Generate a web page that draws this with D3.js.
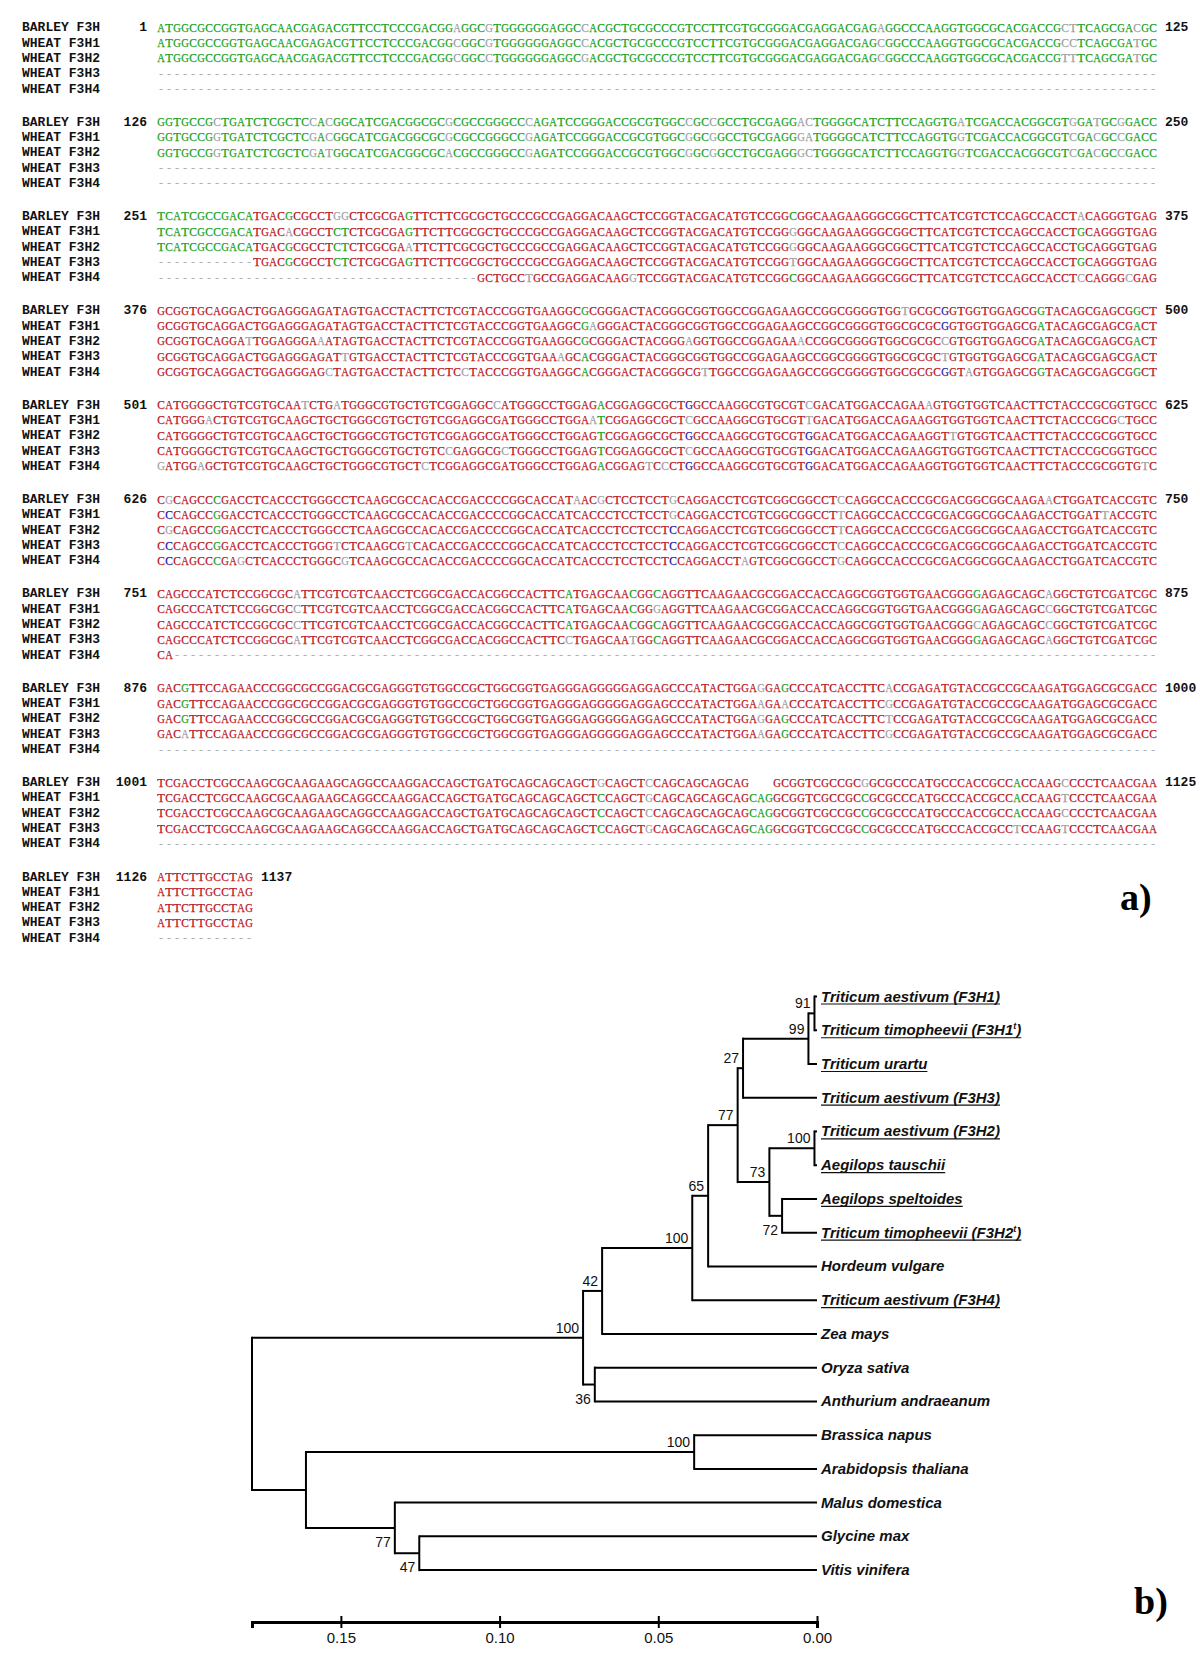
<!DOCTYPE html>
<html><head><meta charset="utf-8">
<script src="https://cdn.jsdelivr.net/npm/d3@7"></script>
<style>body{margin:0;background:#fff}</style>
</head><body>
<svg id="c" width="1200" height="1654"></svg>
<script>
// ---------------- DATA: alignment ----------------
const seqNames = ["BARLEY F3H","WHEAT F3H1","WHEAT F3H2","WHEAT F3H3","WHEAT F3H4"];
const blockStarts = [1,126,251,376,501,626,751,876,1001,1126];
const blockEnds   = [125,250,375,500,625,750,875,1000,1125,1137];
const GAP = n => "-".repeat(n);

const block1 = [
 "ATGGCGCCGGTGAGCAACGAGACGTTCCTCCCGACGGAGGCGTGGGGGGAGGCCACGCTGCGCCCGTCCTTCGTGCGGGACGAGGACGAGAGGCCCAAGGTGGCGCACGACCGCTTCAGCGACGC",
 "ATGGCGCCGGTGAGCAACGAGACGTTCCTCCCGACGGCGGCGTGGGGGGAGGCCACGCTGCGCCCGTCCTTCGTGCGGGACGAGGACGAGCGGCCCAAGGTGGCGCACGACCGCCTCAGCGATGC",
 "ATGGCGCCGGTGAGCAACGAGACGTTCCTCCCGACGGCGGCCTGGGGGGAGGCGACGCTGCGCCCGTCCTTCGTGCGGGACGAGGACGAGCGGCCCAAGGTGGCGCACGACCGTTTCAGCGATGC",
 GAP(125), GAP(125)];
const block2 = [
 "GGTGCCGCTGATCTCGCTCCACGGCATCGACGGCGCGCGCCGGGCCCAGATCCGGGACCGCGTGGCCGCCGCCTGCGAGGACTGGGGCATCTTCCAGGTGATCGACCACGGCGTGGATGCGGACC",
 "GGTGCCGGTGATCTCGCTCGACGGCATCGACGGCGCGCGCCGGGCCGAGATCCGGGACCGCGTGGCGGCGGCCTGCGAGGGATGGGGCATCTTCCAGGTGGTCGACCACGGCGTCGACGCCGACC",
 "GGTGCCGGTGATCTCGCTCGATGGCATCGACGGCGCACGCCGGGCCGAGATCCGGGACCGCGTGGCGGCGGCCTGCGAGGGCTGGGGCATCTTCCAGGTGGTCGACCACGGCGTCGACGCCGACC",
 GAP(125), GAP(125)];
const block3 = [
 "TCATCGCCGACATGACGCGCCTGGCTCGCGAGTTCTTCGCGCTGCCCGCCGAGGACAAGCTCCGGTACGACATGTCCGGCGGCAAGAAGGGCGGCTTCATCGTCTCCAGCCACCTACAGGGTGAG",
 "TCATCGCCGACATGACACGCCTCTCTCGCGAGTTCTTCGCGCTGCCCGCCGAGGACAAGCTCCGGTACGACATGTCCGGGGGCAAGAAGGGCGGCTTCATCGTCTCCAGCCACCTGCAGGGTGAG",
 "TCATCGCCGACATGACGCGCCTCTCTCGCGAATTCTTCGCGCTGCCCGCCGAGGACAAGCTCCGGTACGACATGTCCGGGGGCAAGAAGGGCGGCTTCATCGTCTCCAGCCACCTGCAGGGTGAG",
 GAP(12) + "TGACGCGCCTCTCTCGCGAGTTCTTCGCGCTGCCCGCCGAGGACAAGCTCCGGTACGACATGTCCGGTGGCAAGAAGGGCGGCTTCATCGTCTCCAGCCACCTGCAGGGTGAG",
 GAP(40) + "GCTGCCTGCCGAGGACAAGGTCCGGTACGACATGTCCGGCGGCAAGAAGGGCGGCTTCATCGTCTCCAGCCACCTCCAGGGCGAG"];
const block4 = [
 "GCGGTGCAGGACTGGAGGGAGATAGTGACCTACTTCTCGTACCCGGTGAAGGCGCGGGACTACGGGCGGTGGCCGGAGAAGCCGGCGGGGTGGTGCGCGGTGGTGGAGCGGTACAGCGAGCGGCT",
 "GCGGTGCAGGACTGGAGGGAGATAGTGACCTACTTCTCGTACCCGGTGAAGGCGAGGGACTACGGGCGGTGGCCGGAGAAGCCGGCGGGGTGGCGCGCGGTGGTGGAGCGATACAGCGAGCGACT",
 "GCGGTGCAGGATTGGAGGGAAATAGTGACCTACTTCTCGTACCCGGTGAAGGCGCGGGACTACGGGAGGTGGCCGGAGAAACCGGCGGGGTGGCGCGCCGTGGTGGAGCGATACAGCGAGCGACT",
 "GCGGTGCAGGACTGGAGGGAGATTGTGACCTACTTCTCGTACCCGGTGAAAGCACGGGACTACGGGCGGTGGCCGGAGAAGCCGGCGGGGTGGCGCGCTGTGGTGGAGCGATACAGCGAGCGACT",
 "GCGGTGCAGGACTGGAGGGAGCTAGTGACCTACTTCTCCTACCCGGTGAAGGCACGGGACTACGGGCGTTGGCCGGAGAAGCCGGCGGGGTGGCGCGCGGTAGTGGAGCGGTACAGCGAGCGGCT"];
const block5 = [
 "CATGGGGCTGTCGTGCAATCTGATGGGCGTGCTGTCGGAGGCCATGGGCCTGGAGACGGAGGCGCTGGCCAAGGCGTGCGTCGACATGGACCAGAAAGTGGTGGTCAACTTCTACCCGCGGTGCC",
 "CATGGGACTGTCGTGCAAGCTGCTGGGCGTGCTGTCGGAGGCGATGGGCCTGGAATCGGAGGCGCTCGCCAAGGCGTGCGTTGACATGGACCAGAAGGTGGTGGTCAACTTCTACCCGCGCTGCC",
 "CATGGGGCTGTCGTGCAAGCTGCTGGGCGTGCTGTCGGAGGCGATGGGCCTGGAGTCGGAGGCGCTGGCCAAGGCGTGCGTGGACATGGACCAGAAGGTTGTGGTCAACTTCTACCCGCGGTGCC",
 "CATGGGGCTGTCGTGCAAGCTGCTGGGCGTGCTGTCCGAGGCGCTGGGCCTGGAGTCGGAGGCGCTCGCCAAGGCGTGCGTGGACATGGACCAGAAGGTGGTGGTCAACTTCTACCCGCGGTGCC",
 "GATGGAGCTGTCGTGCAAGCTGCTGGGCGTGCTCTCGGAGGCGATGGGCCTGGAGACGGAGTCCCTGGCCAAGGCGTGCGTGGACATGGACCAGAAGGTGGTGGTCAACTTCTACCCGCGGTGTC"];
const block6 = [
 "CGCAGCCCGACCTCACCCTGGGCCTCAAGCGCCACACCGACCCCGGCACCATAACGCTCCTCCTGCAGGACCTCGTCGGCGGCCTCCAGGCCACCCGCGACGGCGGCAAGAACTGGATCACCGTC",
 "CCCAGCCGGACCTCACCCTGGGCCTCAAGCGCCACACCGACCCCGGCACCATCACCCTCCTCCTGCAGGACCTCGTCGGCGGCCTTCAGGCCACCCGCGACGGCGGCAAGACCTGGATTACCGTC",
 "CGCAGCCGGACCTCACCCTGGGCCTCAAGCGCCACACCGACCCCGGCACCATCACCCTCCTCCTCCAGGACCTCGTCGGCGGCCTTCAGGCCACCCGCGACGGCGGCAAGACCTGGATCACCGTC",
 "CCCAGCCGGACCTCACCCTGGGTCTCAAGCGTCACACCGACCCCGGCACCATCACCCTCCTCCTCCAGGACCTCGTCGGCGGCCTCCAGGCCACCCGCGACGGCGGCAAGACCTGGATCACCGTC",
 "CCCAGCCCGAGCTCACCCTGGGCGTCAAGCGCCACACCGACCCCGGCACCATCACCCTCCTCCTCCAGGACCTAGTCGGCGGCCTGCAGGCCACCCGCGACGGCGGCAAGACCTGGATCACCGTC"];
const block7 = [
 "CAGCCCATCTCCGGCGCATTCGTCGTCAACCTCGGCGACCACGGCCACTTCATGAGCAACGGCAGGTTCAAGAACGCGGACCACCAGGCGGTGGTGAACGGGGAGAGCAGCAGGCTGTCGATCGC",
 "CAGCCCATCTCCGGCGCCTTCGTCGTCAACCTCGGCGACCACGGCCACTTCATGAGCAACGGGAGGTTCAAGAACGCGGACCACCAGGCGGTGGTGAACGGGGAGAGCAGCCGGCTGTCGATCGC",
 "CAGCCCATCTCCGGCGCCTTCGTCGTCAACCTCGGCGACCACGGCCACTTCATGAGCAACGGCAGGTTCAAGAACGCGGACCACCAGGCGGTGGTGAACGGGCAGAGCAGCCGGCTGTCGATCGC",
 "CAGCCCATCTCCGGCGCATTCGTCGTCAACCTCGGCGACCACGGCCACTTCCTGAGCAATGGCAGGTTCAAGAACGCGGACCACCAGGCGGTGGTGAACGGGGAGAGCAGCAGGCTGTCGATCGC",
 "CA" + GAP(123)];
const block8 = [
 "GACGTTCCAGAACCCGGCGCCGGACGCGAGGGTGTGGCCGCTGGCGGTGAGGGAGGGGGAGGAGCCCATACTGGAGGAGCCCATCACCTTCACCGAGATGTACCGCCGCAAGATGGAGCGCGACC",
 "GACGTTCCAGAACCCGGCGCCGGACGCGAGGGTGTGGCCGCTGGCGGTGAGGGAGGGGGAGGAGCCCATACTGGAAGAACCCATCACCTTCGCCGAGATGTACCGCCGCAAGATGGAGCGCGACC",
 "GACGTTCCAGAACCCGGCGCCGGACGCGAGGGTGTGGCCGCTGGCGGTGAGGGAGGGGGAGGAGCCCATACTGGAGGAGCCCATCACCTTCTCCGAGATGTACCGCCGCAAGATGGAGCGCGACC",
 "GACATTCCAGAACCCGGCGCCGGACGCGAGGGTGTGGCCGCTGGCGGTGAGGGAGGGGGAGGAGCCCATACTGGAAGAGCCCATCACCTTCGCCGAGATGTACCGCCGCAAGATGGAGCGCGACC",
 GAP(125)];
const block9 = [
 "TCGACCTCGCCAAGCGCAAGAAGCAGGCCAAGGACCAGCTGATGCAGCAGCAGCTGCAGCTCCAGCAGCAGCAG   GCGGTCGCCGCGGCGCCCATGCCCACCGCCACCAAGCCCCTCAACGAA",
 "TCGACCTCGCCAAGCGCAAGAAGCAGGCCAAGGACCAGCTGATGCAGCAGCAGCTCCAGCTGCAGCAGCAGCAGCAGGCGGTCGCCGCCGCGCCCATGCCCACCGCCACCAAGTCCCTCAACGAA",
 "TCGACCTCGCCAAGCGCAAGAAGCAGGCCAAGGACCAGCTGATGCAGCAGCAGCTCCAGCTCCAGCAGCAGCAGCAGGCGGTCGCCGCCGCGCCCATGCCCACCGCCACCAAGCCCCTCAACGAA",
 "TCGACCTCGCCAAGCGCAAGAAGCAGGCCAAGGACCAGCTGATGCAGCAGCAGCTCCAGCTGCAGCAGCAGCAGCAGGCGGTCGCCGCCGCGCCCATGCCCACCGCCTCCAAGTCCCTCAACGAA",
 GAP(125)];
const block10 = ["ATTCTTGCCTAG","ATTCTTGCCTAG","ATTCTTGCCTAG","ATTCTTGCCTAG", GAP(12)];
const blocks = [block1,block2,block3,block4,block5,block6,block7,block8,block9,block10];

// columns whose highlight deviates from the general scheme (block, column, letter -> class)
const colorOverrides = [
  {b:3, c:80, map:{C:"G"}},
  {b:3, c:116, map:{G:"G"}},
  {b:5, c:67, map:{G:"B", C:"X"}},
  {b:6, c:2, map:{C:"B", G:"X"}},
  {b:6, c:65, map:{C:"B", G:"X"}}
];

// ---------------- DATA: tree ----------------
const taxa = ["Triticum aestivum (F3H1)","Triticum timopheevii (F3H1t)","Triticum urartu","Triticum aestivum (F3H3)",
  "Triticum aestivum (F3H2)","Aegilops tauschii","Aegilops speltoides","Triticum timopheevii (F3H2t)",
  "Hordeum vulgare","Triticum aestivum (F3H4)","Zea mays","Oryza sativa","Anthurium andraeanum",
  "Brassica napus","Arabidopsis thaliana","Malus domestica","Glycine max","Vitis vinifera"];
const underlined = taxa.slice(0,8).concat(["Triticum aestivum (F3H4)"]);
const L = i => ({name: taxa[i], h: 0});
const tree = {id:"root", h:0.178, children:[
  {id:"m100", h:0.0737, bs:100, children:[
    {id:"n42", h:0.0677, bs:42, children:[
      {id:"n100a", h:0.0393, bs:100, children:[
        {id:"n65", h:0.0343, bs:65, children:[
          {id:"n77", h:0.0250, bs:77, children:[
            {id:"n27", h:0.0233, bs:27, children:[
              {id:"n99", h:0.0027, bs:99, children:[
                {id:"n91", h:0.0008, bs:91, children:[L(0), L(1)]}, L(2)]},
              L(3)]},
            {id:"n73", h:0.0150, bs:73, children:[
              {id:"n100b", h:0.0008, bs:100, children:[L(4), L(5)]},
              {id:"n72", h:0.0110, bs:72, children:[L(6), L(7)]}]}]},
          L(8)]},
        L(9)]},
      L(10)]},
    {id:"n36", h:0.0700, bs:36, children:[L(11), L(12)]}]},
  {id:"dicot", h:0.161, children:[
    {id:"n100c", h:0.0387, bs:100, children:[L(13), L(14)]},
    {id:"n77d", h:0.1330, bs:77, children:[
      L(15),
      {id:"n47", h:0.1253, bs:47, children:[L(16), L(17)]}]}]}
]};
const labelBelow = ["n72","n36","n77d","n47"];
const axisTicks = [0.15, 0.10, 0.05, 0.00];

// ---------------- DRAW: alignment ----------------
const svg = d3.select("#c");
const COL = {R:"#bb1219", G:"#17a017", B:"#1818a8", X:"#a0a0a0", D:"#b0b0b0"};
const colX = d3.scaleBand().domain(d3.range(125)).range([157,1157]);
const blockY = d3.scaleLinear().domain([0,9]).range([26.7, 876]);
const rowY = d3.scaleLinear().domain([0,4]).range([0, 61.3]);

function classify(chars){
  const letters = chars.filter(c => c!=="-" && c!==" ");
  const n = letters.length;
  const sorted = [...d3.rollup(letters, v=>v.length, d=>d).entries()].sort((a,b)=>b[1]-a[1]);
  const cm = {};
  if (sorted.length===1) cm[sorted[0][0]] = n>=4 ? "R" : "G";
  else if (n>=4) {
    const m = sorted[0][1];
    if (n===4 && m===3) cm[sorted[0][0]] = "G";
    if (n===5) {
      if (m===4) cm[sorted[0][0]] = "R";
      else if (m===3 && sorted[1][1]===2) { cm[sorted[0][0]]="G"; cm[sorted[1][0]]="G"; }
      else if (m===3) cm[sorted[0][0]] = "B";
    }
  }
  return cm;
}

const gAl = svg.append("g");
blocks.forEach((blk, b) => {
  const y0 = blockY(b);
  const len = blk[0].length;
  const cls = d3.range(len).map(c => {
    const cm = classify(blk.map(s => s[c]));
    const ov = colorOverrides.find(o => o.b===b+1 && o.c===c+1);
    return ov ? Object.assign({}, cm, ov.map) : cm;
  });
  blk.forEach((s, r) => {
    const y = y0 + rowY(r) + 4.5;
    gAl.append("text").attr("x", 22).attr("y", y)
      .attr("font-family","Liberation Mono, monospace").attr("font-weight","bold")
      .attr("font-size", 13).attr("fill","#111").attr("xml:space","preserve")
      .text(seqNames[r]);
    if (r===0) {
      gAl.append("text").attr("x", 147).attr("y", y).attr("text-anchor","end")
        .attr("font-family","Liberation Mono, monospace").attr("font-weight","bold")
        .attr("font-size", 13).attr("fill","#111").text(blockStarts[b]);
      gAl.append("text").attr("x", colX(len-1) + colX.bandwidth() + 8).attr("y", y)
        .attr("font-family","Liberation Mono, monospace").attr("font-weight","bold")
        .attr("font-size", 13).attr("fill","#111").text(blockEnds[b]);
    }
    const chars = s.split("").map((ch, c) => ({ch, c}))
      .filter(d => d.ch !== " ");
    gAl.selectAll(null).data(chars).join("text")
      .attr("x", d => colX(d.c) + colX.bandwidth()/2)
      .attr("y", y + 0.5)
      .attr("text-anchor","middle")
      .attr("font-family","Liberation Serif, serif")
      .attr("font-size", 12.5)
      .attr("textLength", d => d.ch==="-" ? null : 7.6)
      .attr("lengthAdjust","spacingAndGlyphs")
      .attr("fill", d => d.ch==="-" ? COL.D : COL[cls[d.c][d.ch] || "X"])
      .attr("stroke", d => d.ch==="-" ? null : COL[cls[d.c][d.ch] || "X"])
      .attr("stroke-width", 0.25)
      .text(d => d.ch);
  });
});

svg.append("text").attr("x",1120).attr("y",910)
  .attr("font-family","Liberation Serif, serif").attr("font-weight","bold")
  .attr("font-size",38).text("a)");
svg.append("text").attr("x",1134).attr("y",1614)
  .attr("font-family","Liberation Serif, serif").attr("font-weight","bold")
  .attr("font-size",38).text("b)");

// ---------------- DRAW: tree ----------------
const root = d3.hierarchy(tree);
const xS = d3.scaleLinear().domain([0.178, 0]).range([252, 817]);
const yS = d3.scaleLinear().domain([0, taxa.length-1]).range([996.5, 1570.1]);
root.leaves().forEach(l => { l.yy = yS(taxa.indexOf(l.data.name)); });
root.eachAfter(n => { if (n.children) n.yy = (n.children[0].yy + n.children[n.children.length-1].yy)/2; });

const gT = svg.append("g").attr("stroke","#000").attr("stroke-width",2).attr("fill","none");
root.descendants().forEach(n => {
  if (n.children) {
    const x = xS(n.data.h);
    gT.append("line").attr("x1",x).attr("x2",x)
      .attr("y1", n.children[0].yy - 1).attr("y2", n.children[n.children.length-1].yy + 1);
    n.children.forEach(ch => {
      gT.append("line").attr("x1", x).attr("x2", xS(ch.data.h))
        .attr("y1", ch.yy).attr("y2", ch.yy);
    });
  }
});
// bootstrap values
root.descendants().filter(n => n.data.bs !== undefined).forEach(n => {
  const below = labelBelow.includes(n.data.id);
  svg.append("text").attr("x", xS(n.data.h) - 4)
    .attr("y", below ? n.yy + 19 : n.yy - 5)
    .attr("text-anchor","end")
    .attr("font-family","Liberation Sans, Arial, sans-serif")
    .attr("font-size", 14).attr("fill","#111").text(n.data.bs);
});
// leaf labels
root.leaves().forEach(l => {
  const name = l.data.name;
  const t = svg.append("text").attr("x", 821).attr("y", l.yy + 5)
    .attr("font-family","Liberation Sans, Arial, sans-serif")
    .attr("font-weight","bold").attr("font-style","italic")
    .attr("font-size", 15).attr("fill","#111");
  const m = name.match(/^(.*\(F3H[12])t\)$/);
  if (m) {
    t.append("tspan").text(m[1]);
    t.append("tspan").attr("font-size",9).attr("dy",-6).text("t");
    t.append("tspan").attr("dy",6).text(")");
  } else t.text(name);
  if (underlined.includes(name)) {
    const w = t.node().getComputedTextLength();
    svg.append("line").attr("x1",821).attr("x2",821+w)
      .attr("y1", l.yy + 7.5).attr("y2", l.yy + 7.5)
      .attr("stroke","#111").attr("stroke-width",1.2);
  }
});

// scale axis
const ax = svg.append("g").attr("transform","translate(0,1622)")
  .call(d3.axisBottom(xS).tickValues(axisTicks).tickFormat(d3.format(".2f")).tickSizeOuter(0).tickSize(6));
ax.select(".domain").attr("stroke","#000").attr("stroke-width",3);
ax.selectAll(".tick line").attr("y1",-6).attr("y2",6).attr("stroke","#000").attr("stroke-width",2);
ax.selectAll(".tick text").attr("y",10).attr("dy","0.71em")
  .attr("font-family","Liberation Sans, Arial, sans-serif").attr("font-size",15).attr("fill","#111");
</script>
</body></html>
